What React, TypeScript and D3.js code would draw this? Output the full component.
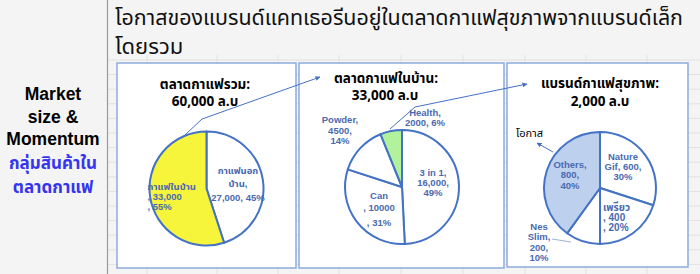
import React from "react";
import * as d3 from "d3";

const titleLines = ["โอกาสของแบรนด์แคทเธอรีนอยู่ในตลาดกาแฟสุขภาพจากแบรนด์เล็ก", "โดยรวม"];
const sideEnglish = ["Market", "size &", "Momentum"];
const sideThai = ["กลุ่มสินค้าใน", "ตลาดกาแฟ"];

const p1Title = ["ตลาดกาแฟรวม:", "60,000 ล.บ"];
const p1Names = ["กาแฟนอกบ้าน", "กาแฟในบ้าน"];
const p1Values = [27000, 33000];
const p1Labels = [["กาแฟนอก", "บ้าน,", "27,000, 45%"], ["กาแฟในบ้าน", ", 33,000", ", 55%"]];

const p2Title = ["ตลาดกาแฟในบ้าน:", "33,000 ล.บ"];
const p2Names = ["3 in 1", "Can", "Powder", "Health"];
const p2Values = [16000, 10000, 4500, 2000];
const p2Labels = [["3 in 1,", "16,000,", "49%"], ["Can", ", 10000", ", 31%"], ["Powder,", "4500,", "14%"], ["Health,", "2000, 6%"]];

const p3Title = ["แบรนด์กาแฟสุขภาพ:", "2,000 ล.บ"];
const p3Names = ["Nature Gif", "เพรียว", "Nes Slim", "Others"];
const p3Values = [600, 400, 200, 800];
const p3Labels = [["Nature", "Gif, 600,", "30%"], ["เพรียว", ", 400", ", 20%"], ["Nes", "Slim,", "200,", "10%"], ["Others,", "800,", "40%"]];

const BLUE = "#4472c4";
const LABEL = "#4a6ab0";
const THAI = "'Noto Sans Thai', 'Noto Sans', 'DejaVu Sans', sans-serif";
const LAT = "'Liberation Sans', Arial, sans-serif";

type LabelLayout = { x: number; y: number[]; anchor: string; size?: number };

function Pie(props: {
  cx: number; cy: number; r: number; values: number[]; fills: string[];
  labels: string[][]; layout: LabelLayout[];
}) {
  const { cx, cy, r, values, fills, labels, layout } = props;
  const arcs = d3.pie<number>().sort(null).startAngle(0).endAngle(2 * Math.PI)(values);
  const arc = d3.arc<d3.PieArcDatum<number>>().innerRadius(0).outerRadius(r);
  return (
    <g transform={`translate(${cx},${cy})`}>
      {arcs.map((a, i) => (
        <path key={i} d={arc(a) || ""} fill={fills[i]} stroke={BLUE} strokeWidth={2} strokeLinejoin="round" />
      ))}
      {labels.map((lines, i) => (
        <text key={"l" + i} fill={LABEL} fontFamily={`${LAT}, ${THAI}`} fontWeight="bold"
          fontSize={layout[i].size || 9.5} textAnchor={layout[i].anchor}>
          {lines.map((t, j) => (
            <tspan key={j} x={layout[i].x} y={layout[i].y[j]}>{t}</tspan>
          ))}
        </text>
      ))}
    </g>
  );
}

export default function App() {
  const W = 700, H = 274;
  const gridX = [147, 217, 278, 339, 401, 463, 525, 586, 647];
  const gridY = d3.range(60, 274, 14.6);
  const arrowMarker = (
    <marker id="arr" viewBox="0 0 10 10" refX="9" refY="5" markerWidth="5" markerHeight="5" orient="auto">
      <path d="M0,0 L10,5 L0,10 z" fill={BLUE} />
    </marker>
  );
  return (
    <svg width={W} height={H} style={{ position: "absolute", left: 0, top: 0, display: "block" }}>
      <defs>{arrowMarker}</defs>
      <rect x={0} y={0} width={W} height={H} fill="#f4f4f4" />
      {gridX.map((x) => <line key={"gx" + x} x1={x} x2={x} y1={55} y2={H} stroke="#e2e2e2" strokeWidth={1} />)}
      {gridY.map((y) => <line key={"gy" + y} x1={108} x2={W} y1={y} y2={y} stroke="#e2e2e2" strokeWidth={1} />)}
      <line x1={107.5} x2={107.5} y1={0} y2={H} stroke="#9a9a9a" strokeWidth={1.2} />

      <text x={115} y={25} fontFamily={THAI} fontSize={22} fill="#111" textLength={568} lengthAdjust="spacingAndGlyphs">{titleLines[0]}</text>
      <text x={115} y={54} fontFamily={THAI} fontSize={22} fill="#111">{titleLines[1]}</text>

      <text fontFamily={LAT} fontWeight="bold" fontSize={17.5} fill="#000" textAnchor="middle">
        {sideEnglish.map((t, i) => <tspan key={i} x={53} y={100 + i * 22.5}>{t}</tspan>)}
      </text>
      <text fontFamily={THAI} fontWeight="bold" fontSize={17} fill="#3535f0" textAnchor="middle">
        {sideThai.map((t, i) => <tspan key={i} x={53} y={169 + i * 24}>{t}</tspan>)}
      </text>

      <rect x={117} y={63} width={179} height={205} fill="#fff" stroke="#8eaadb" strokeWidth={1.5} />
      <rect x={299} y={63} width={205} height={205} fill="#fff" stroke="#8eaadb" strokeWidth={1.5} />
      <rect x={507} y={63} width={181} height={204} fill="#fff" stroke="#8eaadb" strokeWidth={1.5} />

      <text x={205} y={89} fontFamily={THAI} fontWeight="bold" fontSize={13.5} fill="#000" textAnchor="middle">{p1Title[0]}</text>
      <text x={205} y={106} fontFamily={THAI} fontWeight="bold" fontSize={13.5} fill="#000" textAnchor="middle">{p1Title[1]}</text>
      <text x={386} y={82.5} fontFamily={THAI} fontWeight="bold" fontSize={13.5} fill="#000" textAnchor="middle">{p2Title[0]}</text>
      <text x={385} y={100} fontFamily={THAI} fontWeight="bold" fontSize={13.5} fill="#000" textAnchor="middle">{p2Title[1]}</text>
      <text x={600} y={88} fontFamily={THAI} fontWeight="bold" fontSize={13.5} fill="#000" textAnchor="middle">{p3Title[0]}</text>
      <text x={600} y={106} fontFamily={THAI} fontWeight="bold" fontSize={13.5} fill="#000" textAnchor="middle">{p3Title[1]}</text>

      <Pie cx={206.5} cy={188.5} r={57} values={p1Values} fills={["#ffffff", "#f7f43c"]}
        labels={p1Labels}
        layout={[
          { x: 31.5, y: [-15, -2, 12], anchor: "middle" },
          { x: -59, y: [1, 11.5, 21.5], anchor: "start" },
        ]} />
      <Pie cx={402} cy={187} r={57} values={p2Values} fills={["#ffffff", "#ffffff", "#ffffff", "#b3f29c"]}
        labels={p2Labels}
        layout={[
          { x: 31, y: [-11, -1, 8.5], anchor: "middle" },
          { x: -23, y: [12, 24, 39], anchor: "middle" },
          { x: -62, y: [-64, -53, -43], anchor: "middle" },
          { x: 23, y: [-71, -61], anchor: "middle" },
        ]} />
      <Pie cx={600} cy={188} r={56} values={p3Values} fills={["#ffffff", "#ffffff", "#ffffff", "#bdd1ee"]}
        labels={p3Labels}
        layout={[
          { x: 23, y: [-28, -18, -8], anchor: "middle" },
          { x: 3, y: [22.5, 32.5, 42.5], anchor: "start", size: 10 },
          { x: -61, y: [42, 52, 63, 73], anchor: "middle" },
          { x: -30, y: [-20, -10, 1], anchor: "middle" },
        ]} />

      <polyline points="185,135 202,119 320,77" fill="none" stroke={BLUE} strokeWidth={1} markerEnd="url(#arr)" />
      <polyline points="390,129 415,107 527,84" fill="none" stroke={BLUE} strokeWidth={1} markerEnd="url(#arr)" />
      <line x1={553} y1={152} x2={537} y2={143} stroke={BLUE} strokeWidth={1} markerEnd="url(#arr)" />
      <line x1={552} y1={239} x2={571} y2={242} stroke="#9fb3d6" strokeWidth={1} />
      <text x={516} y={137} fontFamily={THAI} fontSize={11} fill="#000">โอกาส</text>
    </svg>
  );
}
